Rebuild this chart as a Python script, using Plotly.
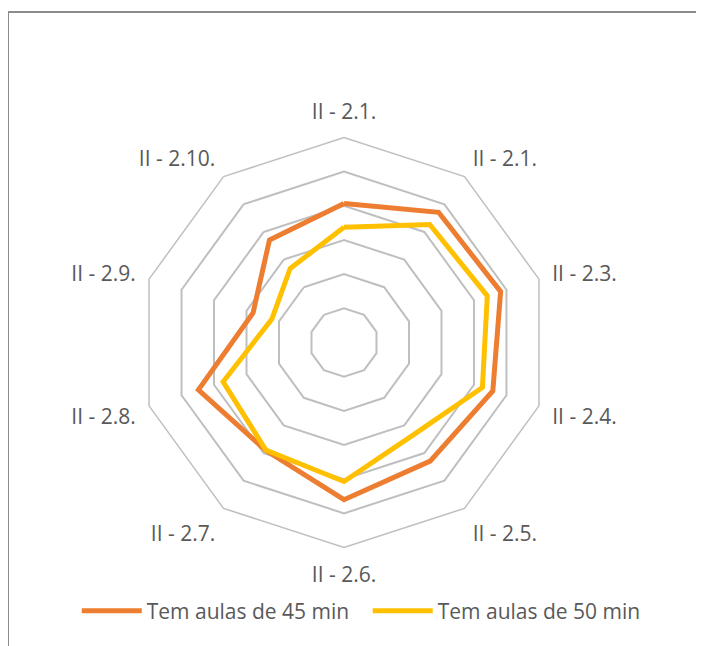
import plotly.graph_objects as go

# Categorias (o rótulo "II - 2.1." aparece duas vezes no original)
categorias = ["II - 2.1.", "II - 2.1.", "II - 2.3.", "II - 2.4.", "II - 2.5.",
              "II - 2.6.", "II - 2.7.", "II - 2.8.", "II - 2.9.", "II - 2.10."]

aulas_45 = [4.07, 4.71, 4.82, 4.58, 4.29, 4.60, 3.90, 4.48, 2.80, 3.71]
aulas_50 = [3.37, 4.27, 4.41, 4.26, 3.38, 4.07, 3.89, 3.72, 2.22, 2.68]

nome_45 = "Tem aulas de 45 min"
nome_50 = "Tem aulas de 50 min"

# chaves únicas para cada eixo, senão os rótulos repetidos se juntam
chaves = ["c%d" % i for i in range(len(categorias))]

fonte = dict(family="Open Sans", size=21, color="#595959")
cinza = "#BFBFBF"

fig = go.Figure()
fig.add_trace(go.Scatterpolar(
    r=aulas_45 + aulas_45[:1], theta=chaves + chaves[:1],
    mode="lines", name=nome_45,
    line=dict(color="#ED7D31", width=5)))
fig.add_trace(go.Scatterpolar(
    r=aulas_50 + aulas_50[:1], theta=chaves + chaves[:1],
    mode="lines", name=nome_50,
    line=dict(color="#FFC000", width=5)))

# a página tem 8px de margem no body, por isso tudo vai deslocado 8px
fig.update_layout(
    width=704, height=646,
    margin=dict(l=0, r=0, t=0, b=0),
    paper_bgcolor="white",
    font=fonte,
    polar=dict(
        domain=dict(x=[131 / 704, 541 / 704], y=[1 - 539.5 / 646, 1 - 129.5 / 646]),
        bgcolor="white",
        gridshape="linear",
        radialaxis=dict(range=[0, 6], dtick=1, showticklabels=False, ticks="",
                        showline=False, gridcolor=cinza, gridwidth=1.5),
        angularaxis=dict(type="category", direction="clockwise", rotation=90,
                         categoryorder="array", categoryarray=chaves,
                         tickmode="array", tickvals=chaves, ticktext=categorias,
                         showgrid=False, linecolor=cinza, linewidth=1.5,
                         ticks="outside", ticklen=9, tickcolor="rgba(0,0,0,0)",
                         tickfont=fonte),
    ),
    showlegend=True,
    legend=dict(orientation="h", x=0.511, xanchor="center", y=1 - 603 / 646,
                yanchor="middle", font=fonte, itemwidth=60,
                entrywidth=216, entrywidthmode="pixels"),
    shapes=[dict(type="rect", xref="paper", yref="paper",
                 x0=0, x1=1.05, y0=-0.05, y1=1 - 4 / 646,
                 line=dict(color="#8C8C8C", width=2))],
)

fig.write_html("out.html")
